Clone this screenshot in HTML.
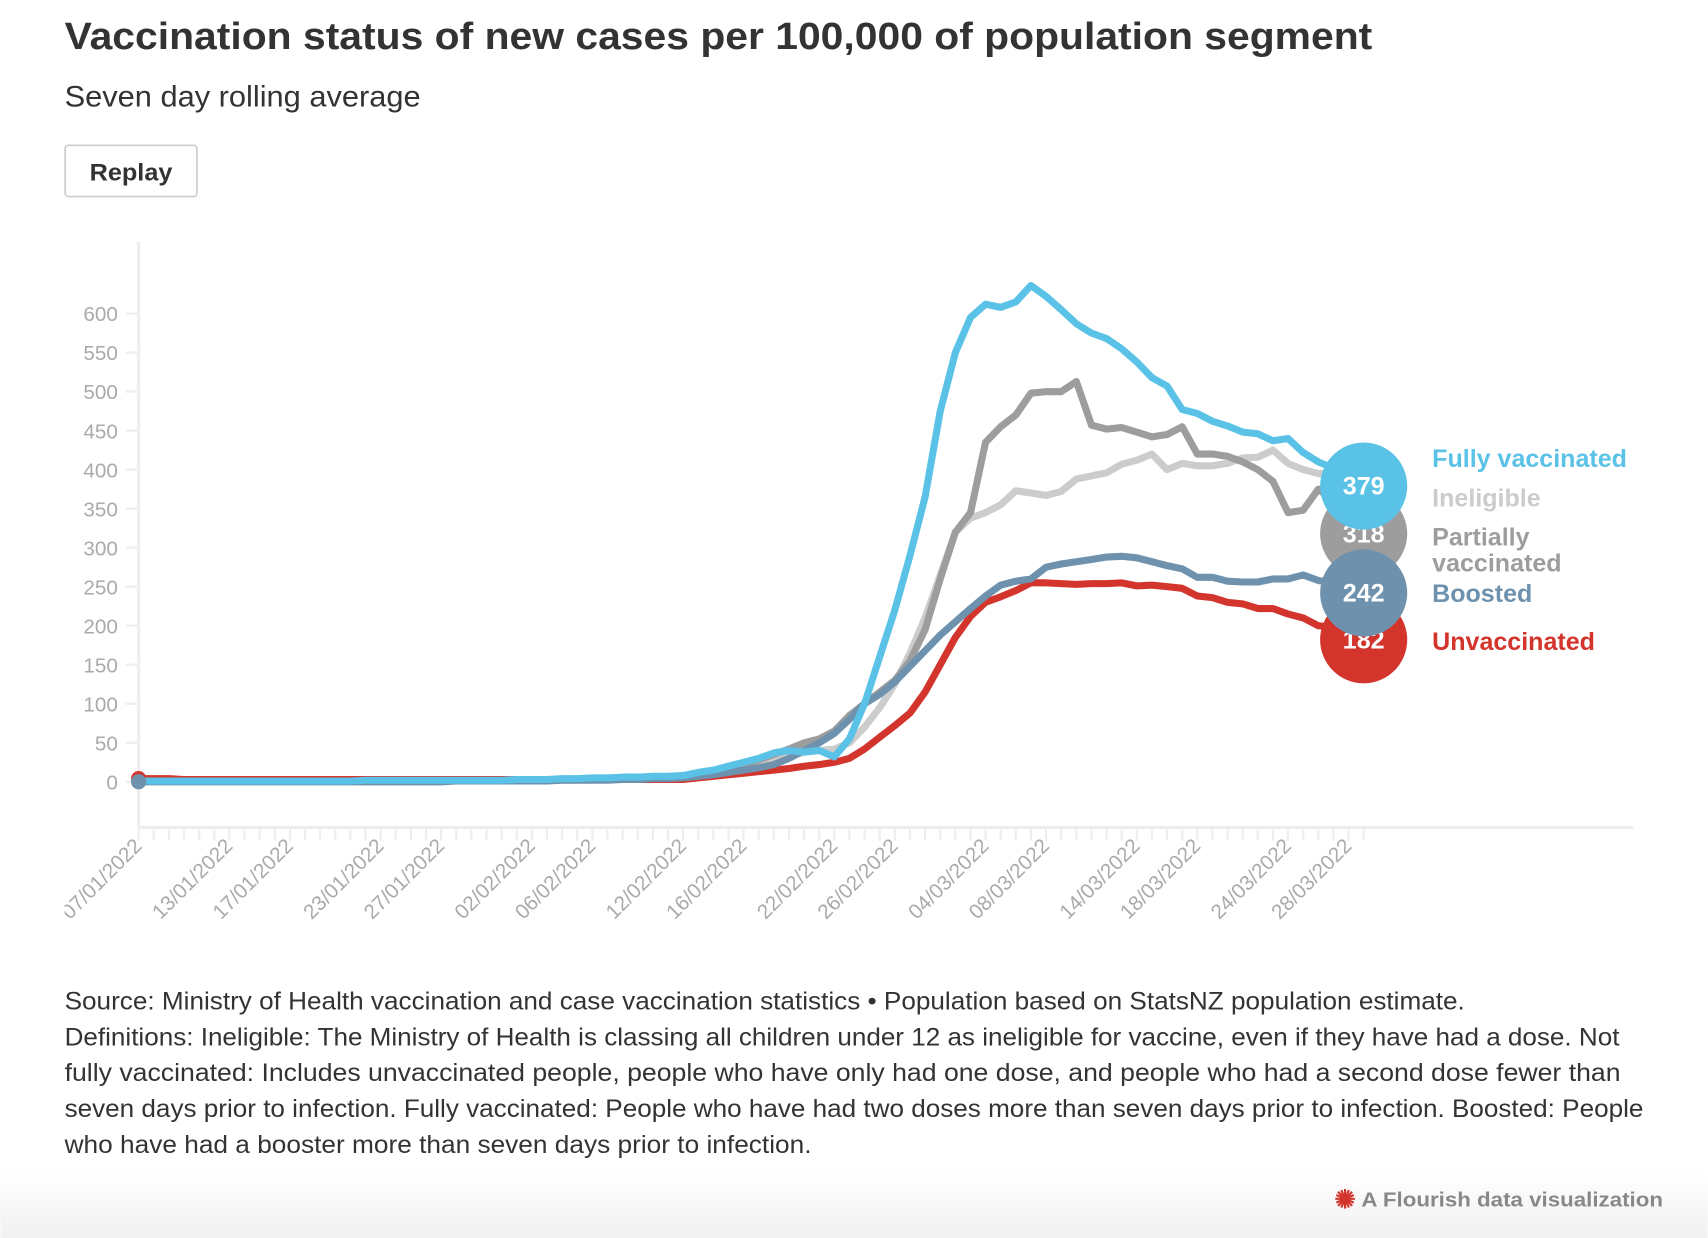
<!DOCTYPE html>
<html><head><meta charset="utf-8"><style>
html,body{margin:0;padding:0;background:#fff;}
svg{display:block;}
text{font-family:"Liberation Sans",sans-serif;}
</style></head><body>
<svg id="chart" width="1708" height="1238" viewBox="0 0 1568 1137" xmlns="http://www.w3.org/2000/svg">
<defs>
<linearGradient id="fade" x1="0" y1="0" x2="0" y2="1"><stop offset="0" stop-color="#fff"/><stop offset="1" stop-color="#f1f1f1"/></linearGradient>
<clipPath id="xclip"><rect x="59" y="740" width="1500" height="200"/></clipPath>
</defs>
<rect x="0" y="1075" width="1568" height="62" fill="url(#fade)"/>
<text x="59" y="45" font-size="35" font-weight="bold" fill="#333" textLength="1201" lengthAdjust="spacingAndGlyphs">Vaccination status of new cases per 100,000 of population segment</text>
<text x="59" y="98" font-size="27" fill="#333" textLength="327" lengthAdjust="spacingAndGlyphs">Seven day rolling average</text>
<g>
<rect x="59.5" y="133.5" width="121" height="47" rx="3" fill="#fff" stroke="#ccc" stroke-width="1.5"/>
<text x="120" y="166" font-size="22" font-weight="bold" fill="#333" text-anchor="middle" textLength="76" lengthAdjust="spacingAndGlyphs">Replay</text>
</g>
<g id="axes"></g>
<g id="lines"></g>
<g id="labels"></g>
<g font-size="23" fill="#333">
<text x="59" y="927" textLength="1286" lengthAdjust="spacingAndGlyphs">Source: Ministry of Health vaccination and case vaccination statistics • Population based on StatsNZ population estimate.</text>
<text x="59" y="960" textLength="1428" lengthAdjust="spacingAndGlyphs">Definitions: Ineligible: The Ministry of Health is classing all children under 12 as ineligible for vaccine, even if they have had a dose. Not</text>
<text x="59" y="993" textLength="1429" lengthAdjust="spacingAndGlyphs">fully vaccinated: Includes unvaccinated people, people who have only had one dose, and people who had a second dose fewer than</text>
<text x="59" y="1026" textLength="1450" lengthAdjust="spacingAndGlyphs">seven days prior to infection. Fully vaccinated: People who have had two doses more than seven days prior to infection. Boosted: People</text>
<text x="59" y="1059" textLength="686" lengthAdjust="spacingAndGlyphs">who have had a booster more than seven days prior to infection.</text>
</g>
<g>
<g transform="translate(1235,1101)" stroke="#d3342c" stroke-width="2">
<line x1="-9" y1="0" x2="9" y2="0"/><line x1="0" y1="-9" x2="0" y2="9"/><line x1="-6.5" y1="-6.5" x2="6.5" y2="6.5"/><line x1="-6.5" y1="6.5" x2="6.5" y2="-6.5"/>
<line x1="-8" y1="-3.5" x2="8" y2="3.5"/><line x1="-8" y1="3.5" x2="8" y2="-3.5"/><line x1="-3.5" y1="-8" x2="3.5" y2="8"/><line x1="3.5" y1="-8" x2="-3.5" y2="8"/>
</g>
<text x="1250" y="1108" font-size="19" font-weight="bold" fill="#888" textLength="277" lengthAdjust="spacingAndGlyphs">A Flourish data visualization</text>
</g>
</svg>
<script>
const NS='http://www.w3.org/2000/svg';
const yTicks=[0,50,100,150,200,250,300,350,400,450,500,550,600];
const xTickLabels=['07/01/2022','13/01/2022','17/01/2022','23/01/2022','27/01/2022','02/02/2022','06/02/2022','12/02/2022','16/02/2022','22/02/2022','26/02/2022','04/03/2022','08/03/2022','14/03/2022','18/03/2022','24/03/2022','28/03/2022'];
const xTickDays=[0,6,10,16,20,26,30,36,40,46,50,56,60,66,70,76,80];
const fullyVaccinated=[1,1,1,1,1,1,1,1,1,1,1,1,1,1,1,2,2,2,2,2,2,2,2,2,2,3,3,3,4,4,5,5,6,6,7,7,8,12,15,20,25,30,37,40,38,40,32,55,100,160,220,290,365,475,550,595,612,608,615,636,622,605,587,575,568,555,538,518,507,477,472,462,456,448,446,437,440,422,410,402,392,379];
const ineligible=[1,1,1,1,1,1,1,1,1,1,1,1,1,1,1,1,1,1,1,1,1,1,1,2,2,2,2,2,2,2,3,3,3,4,4,5,6,8,10,12,15,22,28,32,38,40,42,50,70,95,125,165,210,265,320,338,345,355,373,370,367,372,388,392,396,407,412,420,400,408,405,405,408,415,416,425,408,400,395,395,392,390];
const partiallyVaccinated=[2,2,2,2,2,2,2,2,2,2,2,2,2,2,2,2,2,2,2,2,2,2,2,2,2,2,2,3,3,3,3,4,4,5,5,6,8,10,13,17,22,28,35,42,50,55,65,85,100,115,130,155,195,260,320,345,435,455,470,498,500,500,513,457,452,454,448,442,445,455,420,420,417,410,400,385,345,348,375,360,340,318];
const boosted=[0,0,0,0,0,0,0,0,0,0,0,0,0,0,0,0,0,0,0,0,0,1,1,1,1,1,1,1,2,2,2,2,3,3,4,4,5,7,9,12,15,18,22,30,40,50,62,80,100,112,128,148,168,188,205,222,238,252,257,260,275,279,282,285,288,289,287,282,277,273,262,262,257,256,256,260,260,265,258,255,252,242];
const unvaccinated=[4,4,4,3,3,3,3,3,3,3,3,3,3,3,3,3,3,3,3,3,3,3,3,3,3,3,3,3,3,3,3,3,3,3,3,3,3,5,7,9,11,13,15,17,20,22,25,30,42,57,72,88,115,150,185,212,230,237,245,255,255,254,253,254,254,255,251,252,250,248,238,236,230,228,222,222,215,210,200,198,195,182];
const seriesNames=['Ineligible','Partially vaccinated','Unvaccinated','Boosted','Fully vaccinated'];
const seriesData=[ineligible,partiallyVaccinated,unvaccinated,boosted,fullyVaccinated];
const seriesColors=['#cccccc','#9d9d9d','#d3342c','#6e92ae','#5bc2e7'];
const seriesKeys=['ineligible','partially-vaccinated','unvaccinated','boosted','fully-vaccinated'];
const X0=127, DX=13.89, Y0=718, YS=430/600;
const xs=d=>X0+d*DX, ys=v=>Y0-v*YS;
function mk(tag,attrs,parent){const e=document.createElementNS(NS,tag);for(const k in attrs)e.setAttribute(k,attrs[k]);parent.appendChild(e);return e;}
const axes=document.getElementById('axes');
const yAxis=mk('line',{x1:X0,y1:222,x2:X0,y2:760,stroke:'#eee','stroke-width':3},axes);


const xAxis=mk('line',{x1:X0,y1:760,x2:1500,y2:760,stroke:'#eee','stroke-width':3},axes);


yTicks.forEach(v=>{
  const t=mk('line',{x1:115,x2:X0,y1:ys(v),y2:ys(v),stroke:'#eee','stroke-width':2},axes);
  
  
  const l=mk('text',{x:108,y:ys(v)+7,'font-size':19,fill:'#aaa','text-anchor':'end'},axes);
  
  
  l.textContent=v;
});
for(let d=0;d<fullyVaccinated.length;d++){
  const t=mk('line',{x1:xs(d),x2:xs(d),y1:761,y2:772,stroke:'#eee','stroke-width':2},axes);
  
  
}
const xl=mk('g',{'clip-path':'url(#xclip)'},axes);
xTickLabels.forEach((s,i)=>{
  const x=xs(xTickDays[i])+4, y=778;
  const l=mk('text',{x:x,y:y,'font-size':19,fill:'#aaa','text-anchor':'end',transform:`rotate(-45 ${x} ${y})`},xl);
  
  
  l.textContent=s;
});
const lines=document.getElementById('lines');
const dot0=mk('circle',{cx:xs(0),cy:ys(unvaccinated[0]),r:7,fill:'#d3342c'},lines);


seriesData.forEach((arr,i)=>{
  const p=arr.map((v,d)=>(d?'L':'M')+xs(d).toFixed(1)+','+ys(v).toFixed(1)).join('');
  const path=mk('path',{d:p,fill:'none',stroke:seriesColors[i],'stroke-width':6.5,'stroke-linejoin':'round'},lines);
  
  
});
const dot1=mk('circle',{cx:xs(0),cy:ys(boosted[0]),r:7,fill:'#6e92ae'},lines);


seriesData.forEach((arr,i)=>{
  if(i===0) return;
  const last=arr[arr.length-1], cx=xs(arr.length-1), cy=ys(last);
  const c=mk('circle',{cx:cx,cy:cy,r:40,fill:seriesColors[i]},lines);
  
  
  const t=mk('text',{x:cx,y:cy+8,'font-size':23,'font-weight':'bold',fill:'#fff','text-anchor':'middle'},lines);
  
  
  t.textContent=last;
});
const labels=document.getElementById('labels');
const labelRows=[['Fully vaccinated',421,4],['Ineligible',457,0],['Partially',493,1],['vaccinated',517,1],['Boosted',545,3],['Unvaccinated',589,2]];
labelRows.forEach(r=>{
  const t=mk('text',{x:1315,y:r[1]+8,'font-size':23,'font-weight':'bold',fill:seriesColors[r[2]]},labels);
  
  
  t.textContent=r[0];
});
</script>
</body></html>
